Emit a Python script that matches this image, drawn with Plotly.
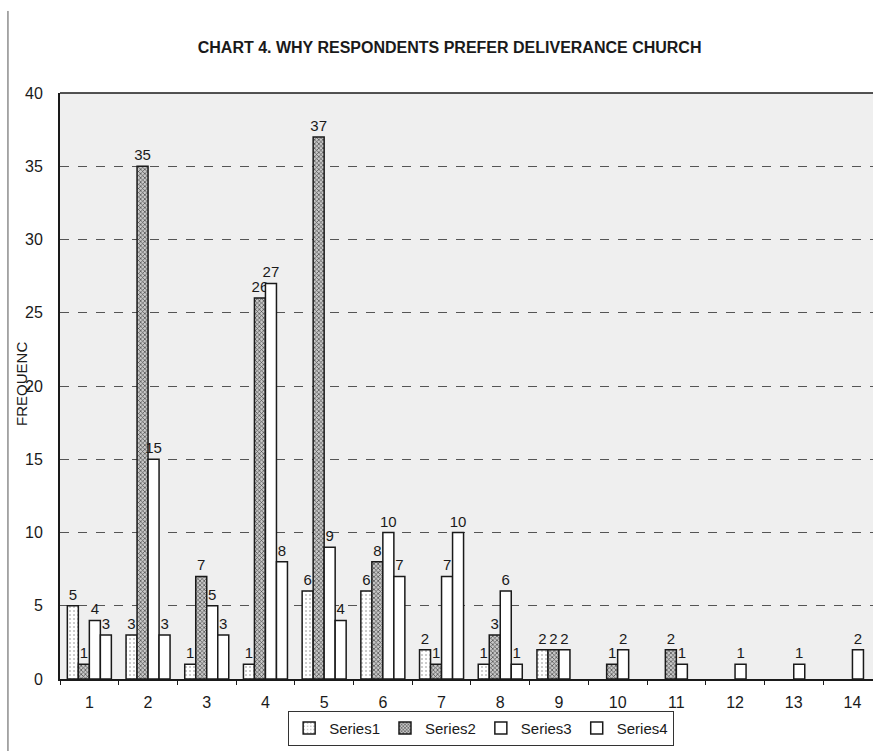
import plotly.graph_objects as go

# Reasons (1-14) and respondent counts for each of the four series; None = no response
categories = list(range(1, 15))
series1 = [5, 3, 1, 1, 6, 6, 2, 1, 2, None, None, None, None, None]
series2 = [1, 35, 7, 26, 37, 8, 1, 3, 2, 1, 2, None, None, None]
series3 = [4, 15, 5, 27, 9, 10, 7, 6, 2, 2, 1, 1, 1, 2]
series4 = [3, 3, 3, 8, 4, 7, 10, 1, None, None, None, None, None, None]
y_ticks = [0, 5, 10, 15, 20, 25, 30, 35, 40]

FONT = "Liberation Sans, Arial, sans-serif"

styles = [
    ("Series1", series1, dict(fillmode="replace", shape=".", fgcolor="#bdbdbd", bgcolor="white", size=4, solidity=0.2)),
    ("Series2", series2, dict(fillmode="replace", shape="x", fgcolor="#444444", bgcolor="#c8c8c8", size=3, solidity=0.4)),
    ("Series3", series3, None),
    ("Series4", series4, None),
]

fig = go.Figure()
for name, vals, pattern in styles:
    marker = dict(color="white", line=dict(color="#1a1a1a", width=1.5))
    if pattern:
        marker["pattern"] = pattern
    fig.add_trace(go.Bar(
        x=categories, y=vals, name=name, marker=marker,
        text=[("" if v is None else str(v)) for v in vals],
        textposition="outside", constraintext="none", cliponaxis=False,
        textfont=dict(family=FONT, size=15, color="#1a1a1a"),
    ))

fig.update_layout(
    width=873, height=751,
    margin=dict(l=60, r=0, t=93, b=72),
    paper_bgcolor="white", plot_bgcolor="#efefef",
    barmode="group", bargap=0.25, bargroupgap=0,
    font=dict(family=FONT, size=15, color="#1a1a1a"),
    title=dict(text="<b>CHART 4. WHY RESPONDENTS PREFER DELIVERANCE CHURCH</b>",
               x=0.515, xanchor="center", y=0.937, yanchor="middle",
               xref="container", yref="container",
               font=dict(family=FONT, size=16, color="#1a1a1a")),
    showlegend=True,
    legend=dict(orientation="h", x=0.518, xanchor="center", y=-0.054, yanchor="top",
                bordercolor="#333333", borderwidth=1, bgcolor="white",
                font=dict(family=FONT, size=15), itemwidth=30,
                tracegroupgap=0, traceorder="normal"),
    xaxis=dict(range=[0.5, 14.35], tickvals=categories, ticktext=[str(c) for c in categories],
               showgrid=False, zeroline=False, showline=True, linecolor="#1a1a1a", linewidth=1.5,
               ticks="", tickfont=dict(size=16), ticklabelstandoff=8,
               minor=dict(ticks="outside", tick0=0.5, dtick=1, ticklen=4, tickcolor="#1a1a1a")),
    yaxis=dict(range=[0, 40], tickvals=y_ticks, showgrid=True, gridcolor="#555555", griddash="dash",
               gridwidth=1, zeroline=False, showline=True, linecolor="#1a1a1a", linewidth=2,
               mirror=False, ticks="", tickfont=dict(size=16), ticklabelstandoff=12),
    annotations=[dict(text="FREQUENC", textangle=-90, x=-0.06, y=0.503,
                      xref="paper", yref="paper", showarrow=False,
                      font=dict(family=FONT, size=15, color="#1a1a1a"))],
    shapes=[
        # top border of the plot area
        dict(type="line", xref="paper", yref="paper", x0=0, x1=1, y0=1, y1=1,
             line=dict(color="#1a1a1a", width=1.5)),
        # page frame on the left
        dict(type="line", xref="paper", yref="paper", x0=-0.064, x1=-0.064, y0=-0.13, y1=1.14,
             line=dict(color="#555555", width=1)),
    ],
)

fig.write_html("out.html")
